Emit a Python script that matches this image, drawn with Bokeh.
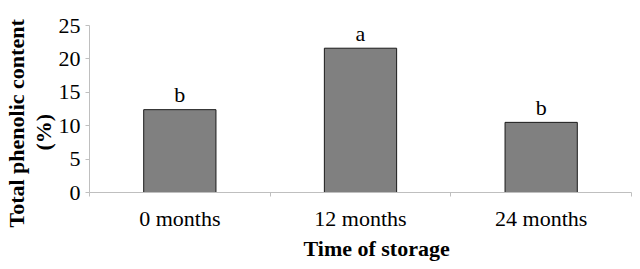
import math
from bokeh.plotting import figure
from bokeh.models import Range1d, FixedTicker, Title, ColumnDataSource
from bokeh.core.properties import value
from bokeh.embed import file_html
from bokeh.resources import INLINE

# ---- data ----
categories = ["0 months", "12 months", "24 months"]
values = [12.4, 21.6, 10.5]
letters = ["b", "a", "b"]
y_ticks = [0, 5, 10, 15, 20, 25]
x_title = "Time of storage"
y_title_1 = "Total phenolic content"
y_title_2 = "(%)"

FONT = "Liberation Serif"
FS = "22px"
AXIS_GRAY = "#bfbfbf"

xs = [i + 0.5 for i in range(len(categories))]
src = ColumnDataSource(dict(x=xs, top=values, letter=letters))

p = figure(frame_width=542, frame_height=167,
           min_border_left=89, min_border_right=9,
           min_border_top=25, min_border_bottom=77,
           x_range=Range1d(0, len(categories)), y_range=Range1d(0, 25),
           output_backend="svg", toolbar_location=None)
p.outline_line_color = None
p.xgrid.visible = False
p.ygrid.visible = False
p.background_fill_color = "white"

p.vbar(x="x", top="top", width=0.4, bottom=0, source=src,
       fill_color="#808080", line_color="#1a1a1a", line_width=1)
p.text(x="x", y="top", text="letter", source=src, text_align="center",
       text_baseline="alphabetic", y_offset=-15, text_font=value(FONT),
       text_font_size=FS, text_color="black")

# x axis: labels at category centres, small ticks at category boundaries
xa = p.xaxis[0]
xa.ticker = FixedTicker(ticks=xs, minor_ticks=list(range(len(categories) + 1)))
xa.major_label_overrides = {x: c for x, c in zip(xs, categories)}
xa.major_tick_out = 0
xa.major_tick_in = 0
xa.minor_tick_out = 4
xa.minor_tick_in = 0
xa.axis_line_color = AXIS_GRAY
xa.minor_tick_line_color = AXIS_GRAY
xa.major_label_standoff = 9
xa.major_label_text_font = FONT
xa.major_label_text_font_size = FS
xa.major_label_text_color = "black"

ya = p.yaxis[0]
ya.ticker = FixedTicker(ticks=y_ticks)
ya.major_tick_out = 4
ya.major_tick_in = 0
ya.minor_tick_out = 0
ya.minor_tick_in = 0
ya.axis_line_color = AXIS_GRAY
ya.major_tick_line_color = AXIS_GRAY
ya.major_label_standoff = 5
ya.major_label_text_font = FONT
ya.major_label_text_font_size = FS
ya.major_label_text_color = "black"

common = dict(text_font=FONT, text_font_size=FS, text_font_style="bold",
              text_color="black", standoff=0)
p.add_layout(Title(text=x_title, align="left", offset=214, **common), "below")
p.add_layout(Title(text=y_title_2, align="left", offset=42, **common), "left")
p.add_layout(Title(text=y_title_1, align="left", offset=-35, **common), "left")

open("out.html", "w").write(file_html(p, INLINE))
